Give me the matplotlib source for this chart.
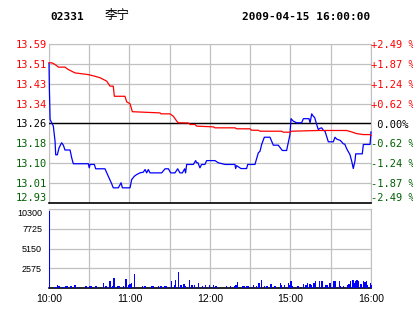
import matplotlib
matplotlib.use("Agg")
import matplotlib.pyplot as plt

# ---- data ----
stock_code = "02331"
stock_name = "李宁"
stamp = "2009-04-15 16:00:00"

# minutes since 10:00 on the trading clock (lunch break skipped)
price_t = [0, 0.3, 0.8, 2.0, 3.2, 4.5, 5.0, 6.2, 7.5, 9.4, 10.7, 11.9, 15.7, 16.9, 18.1,
           29.3, 30.0, 30.6, 33.8, 34.8, 41.7, 44.2, 46.7, 47.9, 51.7, 53.7, 54.7, 60.4,
           61.6, 63.6, 65.3, 67.8, 70.3, 71.6, 72.8, 74.0, 75.3, 84.0, 86.5, 89.0, 90.7,
           93.9, 95.9, 97.6, 99.4, 101.1, 101.8, 102.6, 107.6, 109.3, 110.0, 111.0, 112.5,
           113.7, 116.2, 117.5, 123.7, 126.2, 131.2, 138.6, 139.1, 139.8, 143.1, 147.3,
           148.1, 153.5, 156.0, 157.3, 158.5, 160.5, 164.7, 167.2, 170.9, 173.9, 177.1,
           179.6, 180.4, 182.0, 184.6, 188.3, 189.6, 193.8, 194.6, 195.8, 197.0, 198.0,
           199.5, 200.7, 202.0, 203.2, 204.5, 205.7, 208.2, 211.9, 213.2, 214.5, 217.0,
           218.1, 219.3, 220.5, 221.8, 224.3, 225.6, 226.8, 228.1, 228.6, 233.5, 234.3,
           239.3, 240]
price = [13.51, 13.40, 13.277, 13.263, 13.25, 13.187, 13.13, 13.13, 13.159, 13.18, 13.17,
         13.15, 13.15, 13.118, 13.093, 13.093, 13.076, 13.09, 13.09, 13.072, 13.072, 13.041,
         13.01, 12.993, 12.993, 13.014, 12.993, 12.993, 13.027, 13.041, 13.048, 13.055,
         13.058, 13.069, 13.055, 13.069, 13.055, 13.055, 13.072, 13.072, 13.055, 13.055,
         13.072, 13.055, 13.055, 13.072, 13.055, 13.09, 13.09, 13.106, 13.097, 13.097,
         13.076, 13.09, 13.09, 13.106, 13.106, 13.097, 13.09, 13.09, 13.073, 13.085, 13.073,
         13.073, 13.09, 13.09, 13.138, 13.145, 13.173, 13.203, 13.203, 13.17, 13.17, 13.148,
         13.148, 13.214, 13.28, 13.27, 13.263, 13.263, 13.28, 13.28, 13.263, 13.30, 13.29,
         13.285, 13.256, 13.235, 13.24, 13.242, 13.232, 13.228, 13.184, 13.184, 13.203,
         13.195, 13.19, 13.184, 13.176, 13.174, 13.156, 13.131, 13.104, 13.073, 13.106,
         13.134, 13.134, 13.173, 13.173, 13.225]

avg_t = [0, 2, 4.5, 7, 11.9, 14.4, 19.4, 29.3, 34.3, 38, 43, 45.5, 47.9, 48.7, 56.6, 57.9,
         60.4, 62.1, 82.7, 83.5, 90.2, 92.7, 95.2, 96.4, 104, 105.1, 108.8, 110.1, 122.5,
         123.7, 138.6, 139.9, 149.8, 151, 156, 157.3, 173.4, 174.6, 179.6, 180.9, 200.7,
         221.8, 225.6, 229.3, 234.3, 239.3, 240]
avg = [13.512, 13.512, 13.505, 13.494, 13.494, 13.484, 13.47, 13.463, 13.456, 13.45, 13.436,
       13.415, 13.415, 13.373, 13.373, 13.35, 13.342, 13.309, 13.304, 13.30, 13.30, 13.29,
       13.27, 13.263, 13.262, 13.256, 13.256, 13.249, 13.246, 13.242, 13.242, 13.238, 13.238,
       13.232, 13.232, 13.228, 13.228, 13.224, 13.224, 13.228, 13.231, 13.231, 13.225,
       13.218, 13.214, 13.214, 13.21]

vol_t = [0, 4, 6, 7, 10, 12, 13, 16, 19, 22, 27, 30, 31, 34, 35, 40, 42, 45, 47, 48, 51, 52,
         55, 57, 59, 60, 61, 63, 69, 71, 76, 77, 81, 83, 86, 87, 91, 93, 94, 96, 98, 100,
         101, 104, 106, 108, 111, 114, 116, 119, 122, 124, 132, 135, 138, 139, 140, 144, 145,
         147, 148, 152, 154, 156, 158, 160, 162, 165, 168, 172, 173, 175, 178, 179, 180, 181,
         185, 189, 191, 192, 194, 195, 197, 198, 201, 203, 206, 207, 209, 212, 213, 216, 217,
         219, 222, 223, 224, 226, 227, 228, 229, 230, 232, 234, 235, 236, 237, 239, 240]
vol = [10050, 170, 350, 300, 170, 250, 250, 200, 350, 170, 200, 250, 250, 250, 200, 700, 200,
       960, 250, 1300, 200, 200, 250, 1220, 430, 500, 600, 1830, 200, 200, 200, 200, 200, 200,
       200, 200, 870, 350, 1040, 2090, 350, 520, 260, 1040, 350, 350, 610, 260, 350, 350, 350,
       200, 200, 200, 300, 400, 780, 200, 200, 200, 200, 350, 250, 700, 1040, 300, 300, 520,
       215, 600, 345, 345, 645, 430, 860, 215, 215, 515, 345, 645, 515, 430, 600, 945, 860,
       860, 345, 430, 690, 860, 860, 860, 260, 260, 430, 515, 860, 1075, 645, 945, 1075, 860,
       515, 860, 775, 860, 345, 600, 430]

base = 13.26
left_labels = ["12.93", "13.01", "13.10", "13.18", "13.26", "13.34", "13.43", "13.51", "13.59"]
right_labels = ["-2.49 %", "-1.87 %", "-1.24 %", "-0.62 %", " 0.00%",
                "+0.62 %", "+1.24 %", "+1.87 %", "+2.49 %"]
vol_ticks = [2575, 5150, 7725, 10300]
time_ticks = [0, 60, 120, 180, 240]
time_labels = ["10:00", "11:00", "12:00", "15:00", "16:00"]

# ---- style ----
RED = "#ff0000"
GREEN = "#006000"
BLUE = "#0000ff"
GRID = "#c0c0c0"
mono = ["DejaVu Sans Mono"]
sans = ["Liberation Sans Narrow", "Liberation Sans", "DejaVu Sans"]

W, H = 414, 314
fig = plt.figure(figsize=(W / 100, H / 100), dpi=100)
x0, x1 = 49 / W, 371 / W
ax = fig.add_axes([x0, 1 - 203 / H, x1 - x0, (203 - 44) / H])
axv = fig.add_axes([x0, 1 - 288 / H, x1 - x0, (288 - 209) / H])

lo, hi = 12.93, 13.59
levels = [lo + (hi - lo) * i / 8 for i in range(9)]

# price panel
ax.set_xlim(0, 240)
ax.set_ylim(lo, hi)
ax.set_xticks(range(0, 241, 30))
ax.set_yticks(levels)
ax.grid(True, color=GRID, lw=0.9)
ax.tick_params(length=0, labelbottom=False, pad=1.5)
ax.set_yticklabels(left_labels, fontfamily=mono, fontsize=7.5)
for i, lab in enumerate(ax.get_yticklabels()):
    lab.set_color(RED if i > 4 else ("black" if i == 4 else GREEN))
ax.get_yticklabels()[0].set_va("bottom")
for s in ax.spines.values():
    s.set_color(GRID)
ax.spines["bottom"].set_color("black")
ax.spines["bottom"].set_linewidth(1.2)
ax.axhline(base, color="black", lw=1.0, zorder=3)
ax.plot(price_t, price, color=BLUE, lw=0.9, zorder=4, clip_on=False)
ax.plot(avg_t, avg, color=RED, lw=0.9, zorder=4, clip_on=False)

axr = ax.twinx()
axr.set_ylim(lo, hi)
axr.set_yticks(levels)
axr.set_yticklabels(right_labels, fontfamily=mono, fontsize=7.5)
axr.tick_params(length=0, pad=0)
for i, lab in enumerate(axr.get_yticklabels()):
    lab.set_color(RED if i > 4 else ("black" if i == 4 else GREEN))
axr.get_yticklabels()[0].set_va("bottom")
for s in axr.spines.values():
    s.set_visible(False)

# volume panel
axv.set_xlim(0, 240)
axv.set_ylim(0, 10300)
axv.set_xticks(range(0, 241, 30))
axv.set_xticklabels(["" if t not in time_ticks else time_labels[time_ticks.index(t)]
                     for t in range(0, 241, 30)], fontfamily=sans, fontsize=7.5)
axv.set_yticks(vol_ticks)
axv.set_yticklabels([str(v) for v in vol_ticks], fontfamily=sans, fontsize=6.5)
axv.get_yticklabels()[-1].set_va("top")
axv.grid(True, color=GRID, lw=0.9)
axv.tick_params(length=0, pad=5, axis="y")
axv.tick_params(length=0, pad=4, axis="x")
for s in axv.spines.values():
    s.set_color(GRID)
axv.spines["bottom"].set_color("black")
axv.spines["bottom"].set_linewidth(1.2)
axv.bar(vol_t, vol, width=1.0, color=BLUE, linewidth=0, align="edge",
        antialiased=False, zorder=3, clip_on=False)

# header
fig.text(50 / W, 1 - 17 / H, stock_code, fontfamily=mono, fontweight="bold",
         fontsize=8, va="center", ha="left")
fig.text(117 / W, 1 - 16 / H, stock_name, fontfamily=["Noto Sans CJK SC"], fontsize=9,
         va="center", ha="center")
fig.text(370 / W, 1 - 17 / H, stamp, fontfamily=mono, fontweight="bold",
         fontsize=8, va="center", ha="right")

fig.savefig("out.png", dpi=100)
